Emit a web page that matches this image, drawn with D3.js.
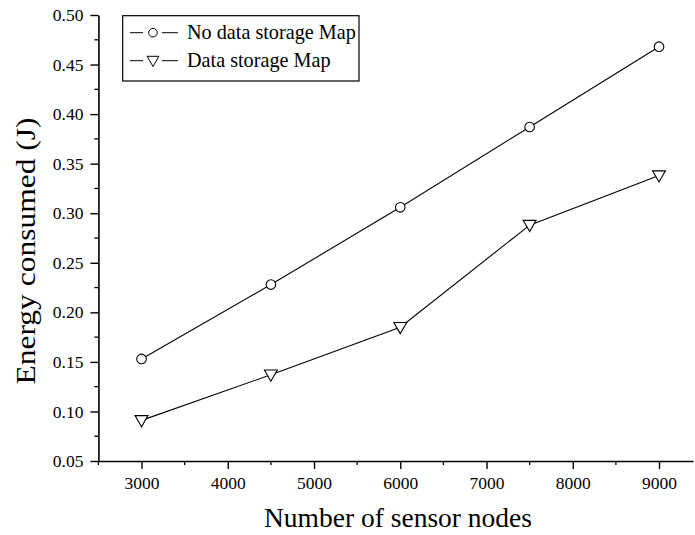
<!DOCTYPE html>
<html><head><meta charset="utf-8">
<script src="https://cdn.jsdelivr.net/npm/d3@7"></script>
<style>body{margin:0;background:#fff}svg{display:block;font-family:"Liberation Serif","Times New Roman",serif}
.tk text{font-family:"Liberation Serif",serif !important;font-size:17.5px !important;fill:#000}</style>
</head><body>
<script>
const nodes = [3000, 4500, 6000, 7500, 9000];
const noStorage = [0.153, 0.228, 0.306, 0.387, 0.468];
const withStorage = [0.091, 0.137, 0.185, 0.288, 0.338];
const seriesNames = ["No data storage Map", "Data storage Map"];
const xTicks = [3000, 4000, 5000, 6000, 7000, 8000, 9000];
const yTicks = [0.05, 0.10, 0.15, 0.20, 0.25, 0.30, 0.35, 0.40, 0.45, 0.50];

const W = 695, H = 535;
const svg = d3.select("body").append("svg").attr("width", W).attr("height", H);
const x = d3.scaleLinear().domain([2500, 9394]).range([98.4, 693]);
const y = d3.scaleLinear().domain([0.05, 0.50]).range([461, 15]);

// minor ticks
const xMinor = d3.range(2500, 9400, 500).filter(v => v % 1000 !== 0);
const yMinor = d3.range(0.075, 0.5, 0.05);
svg.append("g").selectAll("line").data(xMinor).join("line")
  .attr("x1", d => x(d)).attr("x2", d => x(d)).attr("y1", 461).attr("y2", 465)
  .attr("stroke", "#000").attr("stroke-width", 1.3);
svg.append("g").selectAll("line").data(yMinor).join("line")
  .attr("y1", d => y(d)).attr("y2", d => y(d)).attr("x1", 98.4).attr("x2", 94.4)
  .attr("stroke", "#000").attr("stroke-width", 1.3);

const xAxis = svg.append("g").attr("class", "tk").attr("transform", "translate(0,461)")
  .call(d3.axisBottom(x).tickValues(xTicks).tickSize(8).tickSizeOuter(0).tickPadding(8).tickFormat(d3.format("d")));
const yAxis = svg.append("g").attr("class", "tk").attr("transform", "translate(98.4,0)")
  .call(d3.axisLeft(y).tickValues(yTicks).tickSize(8).tickSizeOuter(0).tickPadding(7).tickFormat(d3.format(".2f")));
[xAxis, yAxis].forEach(a => {
  a.select(".domain").attr("stroke-width", 1.6);
  a.selectAll(".tick line").attr("stroke-width", 1.4);
});

svg.append("text").attr("x", 398).attr("y", 527).attr("text-anchor", "middle")
  .style("font-size", "27.5px").text("Number of sensor nodes");
svg.append("text").attr("transform", "translate(35,251) rotate(-90)").attr("text-anchor", "middle")
  .style("font-size", "28px").attr("textLength", 267).attr("lengthAdjust", "spacingAndGlyphs")
  .text("Energy consumed (J)");

const line = d3.line().x((d, i) => x(nodes[i])).y(d => y(d));
const tri = d3.symbol().type(d3.symbolTriangle).size(72);
function drawSeries(vals, kind) {
  svg.append("path").datum(vals).attr("d", line).attr("fill", "none")
    .attr("stroke", "#000").attr("stroke-width", 1.1);
  const g = svg.append("g");
  vals.forEach((v, i) => {
    if (kind === "circle") {
      g.append("circle").attr("cx", x(nodes[i])).attr("cy", y(v)).attr("r", 4.8)
        .attr("fill", "#fff").attr("stroke", "#000").attr("stroke-width", 1.1);
    } else {
      g.append("path").attr("d", tri)
        .attr("transform", `translate(${x(nodes[i])},${y(v) - 1}) rotate(180)`)
        .attr("fill", "#fff").attr("stroke", "#000").attr("stroke-width", 1.1);
    }
  });
}
drawSeries(noStorage, "circle");
drawSeries(withStorage, "tri");

// legend
const lg = svg.append("g");
lg.append("rect").attr("x", 122.7).attr("y", 15.7).attr("width", 236.3).attr("height", 65.3)
  .attr("fill", "#fff").attr("stroke", "#000").attr("stroke-width", 1.2);
[0, 1].forEach(i => {
  const cy = 32.7 + i * 28;
  lg.append("line").attr("x1", 130).attr("x2", 143).attr("y1", cy).attr("y2", cy).attr("stroke", "#000").attr("stroke-width", 1);
  lg.append("line").attr("x1", 162).attr("x2", 178).attr("y1", cy).attr("y2", cy).attr("stroke", "#000").attr("stroke-width", 1);
  if (i === 0) {
    lg.append("circle").attr("cx", 153).attr("cy", cy).attr("r", 4.3).attr("fill", "#fff").attr("stroke", "#000").attr("stroke-width", 1);
  } else {
    lg.append("path").attr("d", d3.symbol().type(d3.symbolTriangle).size(60))
      .attr("transform", `translate(153,${cy - 1}) rotate(180)`).attr("fill", "#fff").attr("stroke", "#000").attr("stroke-width", 1);
  }
  lg.append("text").attr("x", 187).attr("y", cy + 6).style("font-size", "20.2px").text(seriesNames[i]);
});
</script>
</body></html>
